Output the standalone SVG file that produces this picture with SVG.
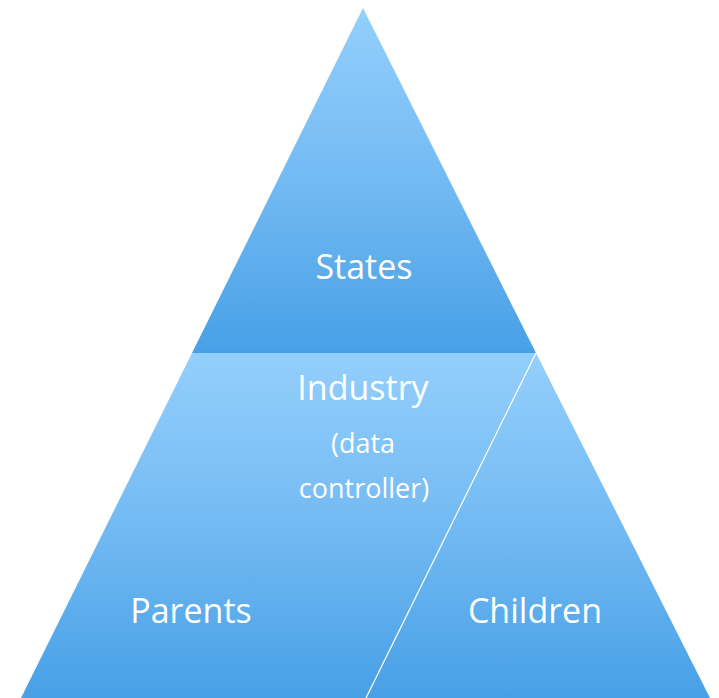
<svg xmlns="http://www.w3.org/2000/svg" width="719" height="698" viewBox="0 0 719 698">
  <style>
    .lbl { font-family: "Open Sans", "Noto Sans", "Liberation Sans", sans-serif; fill: #ffffff; text-anchor: middle; }
    .big { font-size: 34px; }
    .small { font-size: 27px; }
  </style>
  <defs>
    <linearGradient id="g" x1="0" y1="0" x2="0" y2="1">
      <stop offset="0" stop-color="#94CFFC"/>
      <stop offset="0.5" stop-color="#73BAF3"/>
      <stop offset="1" stop-color="#47A0E6"/>
    </linearGradient>
  </defs>
  <rect width="719" height="698" fill="#ffffff"/>
  <g id="states">
    <polygon points="363,8 536,353 192,353" fill="url(#g)"/>
    <text class="lbl big" x="364" y="279">States</text>
  </g>
  <g id="industry">
    <polygon points="192,353 536,353 366,698 21,698" fill="url(#g)"/>
    <text class="lbl big" x="363" y="400">Industry</text>
    <text class="lbl small" x="363" y="453">(data</text>
    <text class="lbl small" x="364" y="498">controller)</text>
    <text class="lbl big" x="191" y="623">Parents</text>
  </g>
  <g id="children">
    <polygon points="536,353 710,698 366,698" fill="url(#g)"/>
    <text class="lbl big" x="535" y="623">Children</text>
  </g>
  <g id="connectors">
    <line x1="536" y1="353" x2="366" y2="698" stroke="#ffffff" stroke-width="1.2"/>
  </g>
</svg>
